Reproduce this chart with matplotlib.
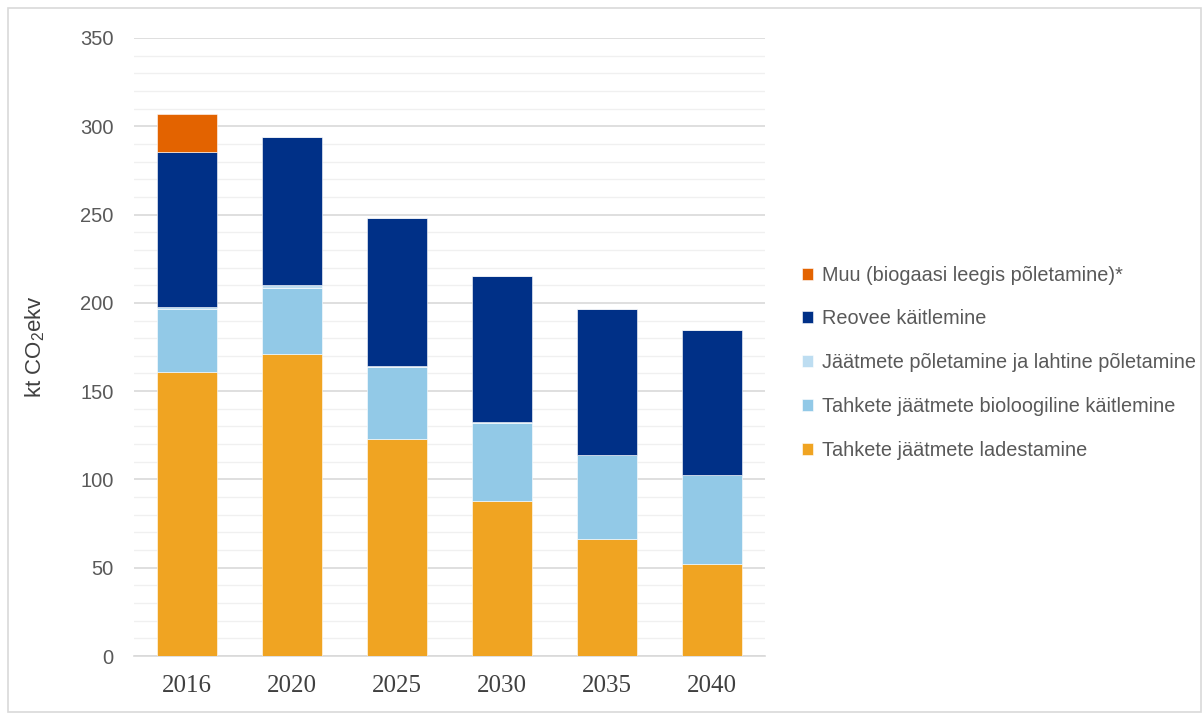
import matplotlib.pyplot as plt
from matplotlib.patches import Rectangle
from matplotlib.ticker import MultipleLocator
import numpy as np

# Data (kt CO2 ekv)
years = ["2016", "2020", "2025", "2030", "2035", "2040"]
ladestamine = [160.8, 171.0, 122.9, 87.8, 66.0, 52.0]
bioloogiline = [35.5, 37.4, 40.8, 44.4, 47.6, 50.5]
poletamine = [1.5, 1.6, 0.5, 0.3, 0.2, 0.2]
reovee = [87.5, 84.0, 83.8, 82.9, 82.7, 81.9]
muu = [21.5, 0, 0, 0, 0, 0]

series = [
    ("Tahkete jäätmete ladestamine", ladestamine, "#F0A422"),
    ("Tahkete jäätmete bioloogiline käitlemine", bioloogiline, "#92C9E7"),
    ("Jäätmete põletamine ja lahtine põletamine", poletamine, "#BDDDF1"),
    ("Reovee käitlemine", reovee, "#003087"),
    ("Muu (biogaasi leegis põletamine)*", muu, "#E36300"),
]

plt.rcParams['font.family'] = ['Liberation Sans', 'DejaVu Sans']

fig = plt.figure(figsize=(12.03, 7.14), dpi=100)
ax = fig.add_axes([0.1118, 0.0812, 0.5237, 0.8656])

x = np.arange(len(years))
bottom = np.zeros(len(years))
handles = []
for label, vals, color in series:
    b = ax.bar(x, vals, width=0.58, bottom=bottom, color=color, label=label,
               edgecolor="white", linewidth=0.4, zorder=3)
    handles.append(b)
    bottom += np.array(vals)

ax.set_xlim(-0.5, len(years) - 0.5)
ax.set_ylim(0, 350)
ax.yaxis.set_major_locator(MultipleLocator(50))
ax.yaxis.set_minor_locator(MultipleLocator(10))
ax.grid(axis="y", which="major", color="#D9D9D9", linewidth=1.2, zorder=0)
ax.grid(axis="y", which="minor", color="#F0F0F0", linewidth=1.0, zorder=0)
ax.set_axisbelow(True)

for s in ["top", "right", "left"]:
    ax.spines[s].set_visible(False)
ax.spines["bottom"].set_color("#D9D9D9")
ax.spines["bottom"].set_linewidth(1.2)

ax.tick_params(axis="both", which="both", length=0)
ax.tick_params(axis="y", labelsize=14.5, labelcolor="#595959", pad=15)
ax.set_xticks(x)
ax.set_xticklabels(years, fontsize=18, color="#404040", family="Liberation Serif")
ax.tick_params(axis="x", pad=14)

ax.set_ylabel("kt CO$_\\mathregular{2}$ekv", fontsize=16, color="#404040", labelpad=24)

leg = fig.legend(handles[::-1], [s[0] for s in series][::-1], loc="upper left",
                 bbox_to_anchor=(0.652, 0.653), frameon=False, fontsize=14.3,
                 handlelength=0.55, handleheight=0.55, handletextpad=0.45,
                 labelspacing=1.25, labelcolor="#595959")

fig.patches.append(Rectangle((8 / 1203, 2 / 714), 1193 / 1203, 704 / 714,
                             transform=fig.transFigure, fill=False,
                             edgecolor="#D9D9D9", linewidth=1.2))

fig.savefig("out.png", dpi=100)
